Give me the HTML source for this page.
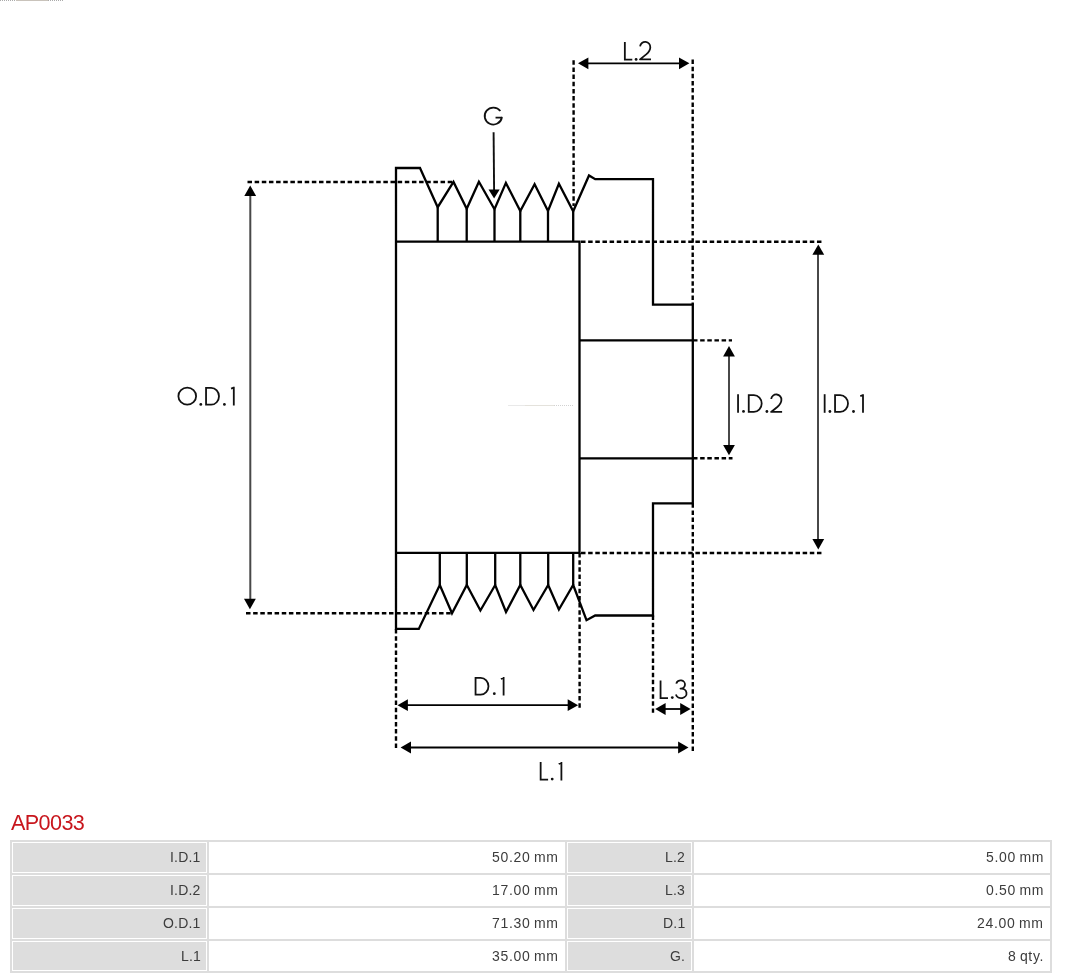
<!DOCTYPE html>
<html><head><meta charset="utf-8"><style>
html,body{margin:0;padding:0;background:#fff;width:1066px;height:979px;overflow:hidden;position:relative}
.c{position:absolute}
.g{background:#dddddd}
.t{position:absolute;will-change:transform;font-family:"Liberation Sans",sans-serif;font-size:14px;color:#3c3c3c;white-space:nowrap;letter-spacing:0.5px}
.tb{position:absolute;left:10px;top:840px;width:1038px;height:129px;border:2px solid #dddddd}
.ln{position:absolute;background:#dddddd}
h2{position:absolute;will-change:transform;margin:0;left:11px;top:809px;font-family:"Liberation Sans",sans-serif;font-weight:normal;font-size:21.6px;color:#c8161d;line-height:28px;letter-spacing:-0.6px}
</style></head><body>
<svg width="1066" height="800" viewBox="0 0 1066 800" style="position:absolute;left:0;top:0">
<g fill="none" stroke-width="1"><path d="M0,0.5H16M48,0.5H64" stroke="#ababab" stroke-dasharray="1 1"/><path d="M16,0.5H48" stroke="#c9c3bb"/></g>
<g fill="none" stroke-width="1"><path d="M508.5,405.5H525M554,405.5H573" stroke="#d2d2d2" stroke-dasharray="1 1"/><path d="M525,405.5H554" stroke="#e4e2dc"/></g>
<g fill="none" stroke="#000" stroke-width="2.3" stroke-linejoin="miter" stroke-miterlimit="10">
<path d="M420,168 L437.7,207.2 L453.5,181.9 L466.7,208.7 L478.9,181.7 L494.5,209.2 L505.9,182.9 L520.3,211.0 L534.6,184.2 L548.0,211.0 L558.9,183.7 L573.2,211.3 L589,175.5 L595.2,179.2 L653,179.2 L653,304.7 L692.8,304.7 L692.8,503.3 L653,503.3 L653,615.5 L595.2,615.5 L586.5,620.2 L573.2,585 L558.9,609.5 L548.2,585 L533.5,610 L520.3,585 L506,612 L495.2,585 L480.4,610.5 L466.8,585 L452,613.3 L439.8,585 L418.8,628.9 L396,628.9 L396,168Z"/>
<path d="M437.7,207.2V241.7M466.7,208.7V241.7M494.5,209.2V241.7M520.3,211.0V241.7M548.0,211.0V241.7M573.2,211.3V241.7M439.8,552.8V585M466.8,552.8V585M495.2,552.8V585M520.3,552.8V585M548.2,552.8V585M573.2,552.8V585M396,241.7H579.5V552.8H396M579.5,340.4H692.8M579.5,458.4H692.8"/>
</g>
<g fill="none" stroke="#000" stroke-width="2.4" stroke-dasharray="4.5 2.65">
<path d="M247.5,182H453.5"/><path d="M246,613.3H452"/><path d="M581,241.8H822"/><path d="M581,553H822"/><path d="M693,340.4H732"/><path d="M693,458.3H732.5"/><path d="M573.6,60.3V206"/><path d="M692.7,59.5V304.7"/><path d="M396,629V750"/><path d="M579.6,553V708.7"/><path d="M653,615.5V712.8"/><path d="M692.8,503.3V751"/>
</g>
<g fill="none" stroke="#000" stroke-width="1.8">
<path d="M582,63.3H685"/><path d="M400,705.2H575"/><path d="M659,709H686"/><path d="M404,747.5H685"/>
</g>
<g fill="none" stroke="#111" stroke-width="1.9">
<path d="M493.6,132.3L494.1,191"/>
</g>
<g fill="none" stroke="#484848" stroke-width="2">
<path d="M250.3,192V603"/><path d="M818,250V544"/><path d="M729,351V450"/>
</g>
<g fill="#000" stroke="none">
<path d="M578.00,63.30 L588.40,57.40 L588.40,69.20Z"/><path d="M689.40,63.30 L679.00,57.40 L679.00,69.20Z"/><path d="M397.50,705.20 L407.90,699.30 L407.90,711.10Z"/><path d="M578.10,705.20 L567.70,699.30 L567.70,711.10Z"/><path d="M655.20,709.00 L665.60,703.10 L665.60,714.90Z"/><path d="M690.60,709.00 L680.20,703.10 L680.20,714.90Z"/><path d="M400.60,747.50 L411.00,741.60 L411.00,753.40Z"/><path d="M688.50,747.50 L678.10,741.60 L678.10,753.40Z"/><path d="M494.10,198.60 L488.50,189.40 L499.70,189.40Z"/><path d="M250.20,185.50 L244.30,195.90 L256.10,195.90Z"/><path d="M249.90,609.20 L244.00,598.80 L255.80,598.80Z"/><path d="M818.30,244.40 L812.40,254.80 L824.20,254.80Z"/><path d="M818.30,549.50 L812.40,539.10 L824.20,539.10Z"/><path d="M729.00,346.00 L723.10,356.40 L734.90,356.40Z"/><path d="M729.00,455.30 L723.10,444.90 L734.90,444.90Z"/>
</g>
<g fill="none" stroke="#111" stroke-width="1.8" stroke-linejoin="round">
<path stroke-linejoin="miter" d="M624.85,42.00V59.70H632.30"/><path d="M640.10,46.40A5.1,5.0 0 0 1 650.30,47.40C650.30,50.20 648.60,52.20 646.20,54.40L640.00,59.35H651.00"/><path d="M500.35,111.08A8.65,8.45 0 1 0 501.87,117.52L501.87,117.55H495.55"/><ellipse cx="187.25" cy="396.15" rx="8.85" ry="8.45"/><path stroke-linejoin="miter" d="M206.05,387.90H211.20A7.8,8.4 0 0 1 211.20,404.70H206.05Z"/><path d="M231.10,388.70L233.80,387.70M233.80,386.80V405.40"/><path d="M738.05,394.20V412.80"/><path stroke-linejoin="miter" d="M748.75,395.10H753.90A7.8,8.4 0 0 1 753.90,411.90H748.75Z"/><path d="M771.20,399.00A5.1,5.0 0 0 1 781.40,400.00C781.40,402.80 779.70,404.80 777.30,407.00L771.10,411.95H782.10"/><path d="M824.65,394.20V412.80"/><path stroke-linejoin="miter" d="M835.05,395.10H840.20A7.8,8.4 0 0 1 840.20,411.90H835.05Z"/><path d="M860.30,396.10L863.00,395.10M863.00,394.20V412.80"/><path stroke-linejoin="miter" d="M475.55,677.90H480.70A7.8,8.4 0 0 1 480.70,694.70H475.55Z"/><path d="M500.90,678.90L503.60,677.90M503.60,677.00V695.60"/><path stroke-linejoin="miter" d="M660.55,680.40V698.10H668.00"/><path d="M676.30,683.60A4.4,4.1 0 1 1 680.50,688.60A5.4,4.8 0 1 1 675.90,694.60"/><path stroke-linejoin="miter" d="M540.65,762.00V779.70H548.10"/><path d="M558.70,763.90L561.40,762.90M561.40,762.00V780.60"/>
</g>
<g fill="#111" stroke="none">
<circle cx="636.10" cy="59.40" r="1.4"/><circle cx="200.80" cy="404.40" r="1.4"/><circle cx="224.40" cy="404.40" r="1.4"/><circle cx="743.50" cy="411.40" r="1.4"/><circle cx="766.90" cy="411.50" r="1.4"/><circle cx="829.90" cy="411.50" r="1.4"/><circle cx="853.50" cy="411.50" r="1.4"/><circle cx="494.30" cy="693.70" r="1.4"/><circle cx="672.30" cy="697.60" r="1.4"/><circle cx="552.20" cy="779.10" r="1.4"/>
</g>
</svg>
<h2>AP0033</h2>
<div class="tb"></div>
<div class="ln" style="left:12px;top:873px;width:1038px;height:2px"></div>
<div class="ln" style="left:12px;top:906px;width:1038px;height:2px"></div>
<div class="ln" style="left:12px;top:939px;width:1038px;height:2px"></div>
<div class="ln" style="left:207px;top:842px;width:2px;height:129px"></div>
<div class="ln" style="left:565px;top:842px;width:2px;height:129px"></div>
<div class="ln" style="left:692px;top:842px;width:2px;height:129px"></div>
<div class="c g" style="left:13px;top:843px;width:193px;height:29px"></div><div class="t" style="right:865.3px;top:842px;height:31px;line-height:31px;letter-spacing:0.2px;word-spacing:0px">I.D.1</div><div class="t" style="right:507.3px;top:842px;height:31px;line-height:31px;letter-spacing:0.7px;word-spacing:-1.2px">50.20 mm</div><div class="c g" style="left:568px;top:843px;width:123px;height:29px"></div><div class="t" style="right:380.8px;top:842px;height:31px;line-height:31px;letter-spacing:0.2px;word-spacing:0px">L.2</div><div class="t" style="right:22.0px;top:842px;height:31px;line-height:31px;letter-spacing:0.7px;word-spacing:-1.2px">5.00 mm</div><div class="c g" style="left:13px;top:876px;width:193px;height:29px"></div><div class="t" style="right:865.3px;top:875px;height:31px;line-height:31px;letter-spacing:0.2px;word-spacing:0px">I.D.2</div><div class="t" style="right:507.3px;top:875px;height:31px;line-height:31px;letter-spacing:0.7px;word-spacing:-1.2px">17.00 mm</div><div class="c g" style="left:568px;top:876px;width:123px;height:29px"></div><div class="t" style="right:380.8px;top:875px;height:31px;line-height:31px;letter-spacing:0.2px;word-spacing:0px">L.3</div><div class="t" style="right:22.0px;top:875px;height:31px;line-height:31px;letter-spacing:0.7px;word-spacing:-1.2px">0.50 mm</div><div class="c g" style="left:13px;top:909px;width:193px;height:29px"></div><div class="t" style="right:865.3px;top:908px;height:31px;line-height:31px;letter-spacing:0.2px;word-spacing:0px">O.D.1</div><div class="t" style="right:507.3px;top:908px;height:31px;line-height:31px;letter-spacing:0.7px;word-spacing:-1.2px">71.30 mm</div><div class="c g" style="left:568px;top:909px;width:123px;height:29px"></div><div class="t" style="right:380.8px;top:908px;height:31px;line-height:31px;letter-spacing:0.2px;word-spacing:0px">D.1</div><div class="t" style="right:22.0px;top:908px;height:31px;line-height:31px;letter-spacing:0.7px;word-spacing:-1.2px">24.00 mm</div><div class="c g" style="left:13px;top:942px;width:193px;height:28px"></div><div class="t" style="right:865.3px;top:941px;height:30px;line-height:30px;letter-spacing:0.2px;word-spacing:0px">L.1</div><div class="t" style="right:507.3px;top:941px;height:30px;line-height:30px;letter-spacing:0.7px;word-spacing:-1.2px">35.00 mm</div><div class="c g" style="left:568px;top:942px;width:123px;height:28px"></div><div class="t" style="right:380.8px;top:941px;height:30px;line-height:30px;letter-spacing:0.2px;word-spacing:0px">G.</div><div class="t" style="right:22.0px;top:941px;height:30px;line-height:30px;letter-spacing:0.7px;word-spacing:-1.2px">8 qty.</div>
</body></html>
